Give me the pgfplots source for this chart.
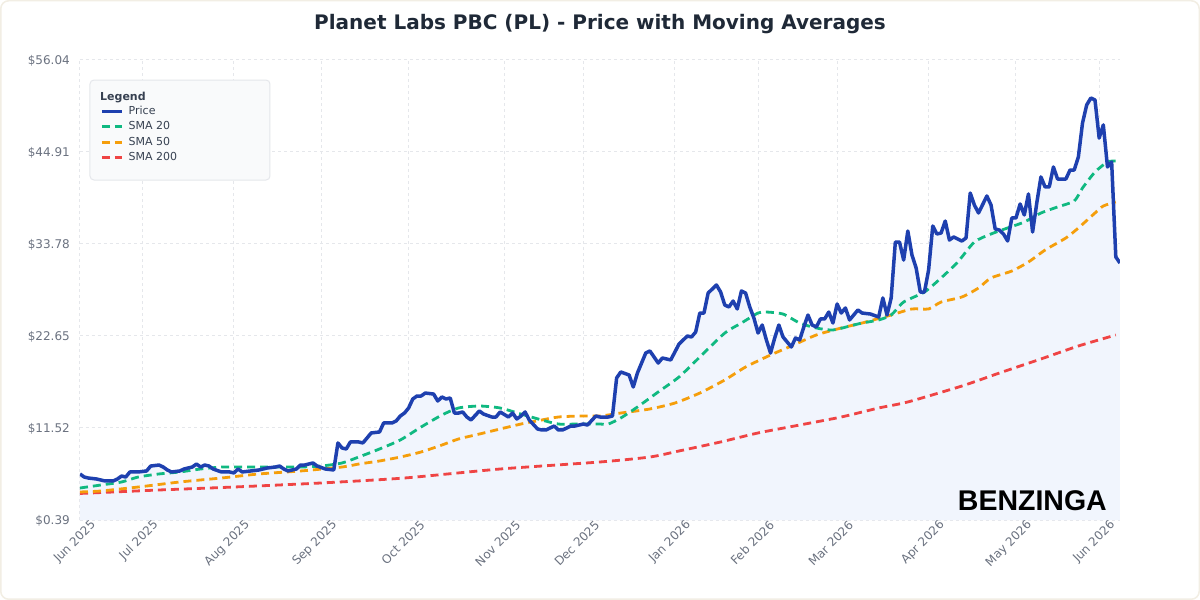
\documentclass[border=0pt]{standalone}
\usepackage{fontspec}
\setmainfont{DejaVu Sans}
\newfontfamily\logofont{Liberation Sans}
\usepackage{pgfplots}
\usepackage{pgfplotstable}
\pgfplotsset{compat=1.18}

\definecolor{priceblue}{RGB}{30,64,175}
\definecolor{smagreen}{RGB}{16,185,129}
\definecolor{smaorange}{RGB}{245,158,11}
\definecolor{smared}{RGB}{239,68,68}
\definecolor{gridgray}{RGB}{229,231,235}
\definecolor{ticktext}{RGB}{107,114,128}
\definecolor{titletext}{RGB}{31,41,55}
\definecolor{legendtext}{RGB}{55,65,81}
\definecolor{legendfill}{RGB}{249,250,251}
\definecolor{legenddraw}{RGB}{229,231,235}
\definecolor{cardborder}{RGB}{242,238,228}
\definecolor{areafill}{RGB}{241,245,253}

\pgfplotstableread{
t v
0 5.96
1 5.59
2 5.47
4 5.35
6 5.11
8 5.11
9 5.35
10 5.71
11 5.59
12 6.20
14 6.20
16 6.32
17 6.92
19 7.04
20 6.80
21 6.44
22 6.20
24 6.32
25 6.56
27 6.80
28 7.16
29 6.80
30 7.04
31 6.92
32 6.56
34 6.20
36 6.20
37 6.08
38 6.56
39 6.20
41 6.32
43 6.44
45 6.68
47 6.80
48 6.92
49 6.56
50 6.32
52 6.56
53 7.04
54 7.04
56 7.29
57 6.92
59 6.56
61 6.44
62 9.71
63 9.10
64 8.98
65 9.83
67 9.83
68 9.71
69 10.31
70 10.92
72 11.04
73 12.13
75 12.13
76 12.37
77 12.97
78 13.33
79 13.94
80 15.03
81 15.39
82 15.39
83 15.75
85 15.63
86 14.79
87 15.27
88 15.03
89 15.15
90 13.33
91 13.33
92 13.46
93 12.85
94 12.49
96 13.58
97 13.21
99 12.85
100 12.85
101 13.46
103 12.85
104 13.33
105 12.61
106 12.97
107 13.46
108 12.49
110 11.40
111 11.28
112 11.28
114 11.76
115 11.28
116 11.28
118 11.76
119 11.76
121 12.00
122 11.88
124 12.97
125 12.85
127 12.85
128 12.97
129 17.57
130 18.30
132 17.93
133 16.48
134 18.17
136 20.59
137 20.84
138 20.11
139 19.38
140 19.99
142 19.75
143 20.71
144 21.68
146 22.65
147 22.53
148 23.13
149 25.43
150 25.43
151 27.85
153 28.82
154 27.97
155 26.40
156 26.16
157 26.88
158 25.92
159 28.09
160 27.85
161 26.16
162 24.83
163 23.01
164 23.98
165 22.17
166 20.59
167 22.41
168 23.98
169 22.53
171 21.32
172 22.41
173 22.17
174 23.74
175 25.19
176 23.98
177 23.74
178 24.71
179 24.71
180 25.55
181 24.22
182 26.52
183 25.43
184 26.04
185 24.59
187 25.80
188 25.43
190 25.31
192 24.95
193 27.25
194 25.19
195 27.25
196 34.02
197 34.02
198 31.84
199 35.35
200 32.45
201 30.88
202 27.97
203 27.97
204 30.64
205 35.96
206 34.99
207 35.11
208 36.56
209 34.26
210 34.63
212 34.14
213 34.51
214 39.95
215 38.50
216 37.53
218 39.59
219 38.50
220 35.60
221 35.47
222 34.99
223 34.14
224 36.93
225 36.93
226 38.62
227 37.29
228 39.83
229 35.23
230 38.74
231 41.89
232 40.68
233 40.68
234 43.10
235 41.64
237 41.64
238 42.73
239 42.73
240 44.31
241 48.42
242 50.60
243 51.44
244 51.20
245 46.60
246 48.18
247 43.10
248 43.70
249 32.21
250 31.48
}\price

\pgfplotstableread{
t v
0 4.26
5 4.62
10 4.99
14 5.59
19 5.96
24 6.20
29 6.56
34 6.80
38 6.80
43 6.80
48 6.80
53 6.80
58 6.92
63 7.29
67 8.01
72 8.98
77 10.07
82 11.64
87 13.09
91 13.94
96 14.18
101 13.94
106 13.21
111 12.49
115 12.00
120 12.00
125 12.00
127 12.00
130 12.73
134 14.06
139 15.88
144 17.69
149 20.11
155 23.01
159 24.22
163 25.43
165 25.55
169 25.31
173 24.22
177 23.62
181 23.38
186 23.98
188 24.22
192 24.59
195 25.19
198 26.76
203 27.97
207 29.67
211 31.60
215 34.02
219 34.99
223 35.72
227 36.44
231 37.53
235 38.26
239 38.98
241 40.56
244 42.49
247 43.70
249 43.82
}\smatwenty

\pgfplotstableread{
t v
0 3.78
5 3.90
14 4.38
24 4.99
34 5.47
43 5.96
53 6.32
63 6.80
67 7.16
72 7.53
77 8.01
82 8.62
87 9.46
91 10.19
96 10.79
101 11.40
106 12.00
111 12.49
115 12.85
120 12.97
125 12.97
130 13.33
137 13.82
143 14.54
149 15.75
155 17.33
160 18.90
166 20.35
171 21.44
177 22.77
183 23.62
188 24.22
195 25.19
200 25.92
204 25.92
207 26.76
212 27.37
216 28.46
219 29.67
224 30.51
228 31.60
232 33.05
237 34.51
240 35.72
244 37.53
246 38.38
249 38.86
}\smafifty

\pgfplotstableread{
t v
0 3.60
19 4.02
37 4.38
58 4.87
78 5.47
101 6.56
125 7.41
137 8.01
144 8.74
154 9.83
163 10.92
173 11.88
183 12.85
192 13.94
199 14.67
212 16.60
221 18.17
231 19.87
240 21.44
249 22.77
}\smatwohundred

\begin{document}
\begin{tikzpicture}[x=1pt,y=1pt]
\draw[cardborder, line width=1.5pt, fill=white, rounded corners=8pt] (0.75,0.75) rectangle (1199.25,599.25);
\node[anchor=base, font=\fontsize{20}{24}\selectfont\bfseries, text=titletext] at (600,570) {Planet Labs PBC (PL) - Price with Moving Averages};
\begin{axis}[
  at={(80pt,80pt)}, anchor=south west,
  scale only axis, width=1040pt, height=460pt,
  xmin=0, xmax=250, ymin=0.39, ymax=56.04,
  axis line style={draw=none},
  major tick length=0pt,
  xtick={0,15,37,58,79,102,121,143,163,182,204,225,245},
  xticklabels={Jun 2025,Jul 2025,Aug 2025,Sep 2025,Oct 2025,Nov 2025,Dec 2025,Jan 2026,Feb 2026,Mar 2026,Apr 2026,May 2026,Jun 2026},
  ytick={0.39,11.52,22.65,33.78,44.91,56.04},
  yticklabels={\$0.39,\$11.52,\$22.65,\$33.78,\$44.91,\$56.04},
  grid=major,
  major grid style={gridgray, line width=1pt, dash pattern=on 3pt off 3pt},
  yticklabel style={font=\fontsize{12}{14}\selectfont, text=ticktext, inner sep=0pt, anchor=east, xshift=-10pt, yshift=-0.5pt},
  xticklabel style={font=\fontsize{12}{14}\selectfont, text=ticktext, inner sep=0pt, xshift=14pt, yshift=-3pt, rotate=45, anchor=east},
  legend image code/.code={\draw[#1] (0pt,0pt) -- (20pt,0pt);},
  reverse legend,
  legend cell align=left,
  legend style={at={(0.01923,0.8999)}, anchor=north west, draw=none, fill=none, inner sep=0pt,
    font=\fontsize{11}{13}\selectfont, text=legendtext, row sep=4.9pt, column sep=5pt,
    nodes={inner sep=0pt, text height=8pt, text depth=2.5pt}},
]
\addplot[draw=none, fill=areafill, forget plot] table[x=t,y=v]{\price} \closedcycle;
\draw[fill=legendfill, draw=legenddraw, line width=1pt, rounded corners=4pt] (rel axis cs:0.00962,0.7391) rectangle (rel axis cs:0.1827,0.9565);
\node[anchor=base west, font=\fontsize{11}{13}\selectfont\bfseries, text=legendtext, inner sep=0pt] at (rel axis cs:0.01923,0.9130) {Legend};
\addplot[smared, line width=2.8pt, dash pattern=on 8pt off 5pt, smooth, tension=0.4] table[x=t,y=v]{\smatwohundred};
\addlegendentry{SMA 200}
\addplot[smaorange, line width=2.8pt, dash pattern=on 8pt off 5pt, smooth, tension=0.4] table[x=t,y=v]{\smafifty};
\addlegendentry{SMA 50}
\addplot[smagreen, line width=2.8pt, dash pattern=on 8pt off 5pt, smooth, tension=0.4] table[x=t,y=v]{\smatwenty};
\addlegendentry{SMA 20}
\addplot[priceblue, line width=3.5pt, line join=round] table[x=t,y=v]{\price};
\addlegendentry{Price}
\end{axis}
\node[anchor=base east, font=\logofont\fontsize{28.5}{30}\selectfont\bfseries, text=black, inner sep=0pt] at (1107,89) {BENZINGA};
\end{tikzpicture}
\end{document}
